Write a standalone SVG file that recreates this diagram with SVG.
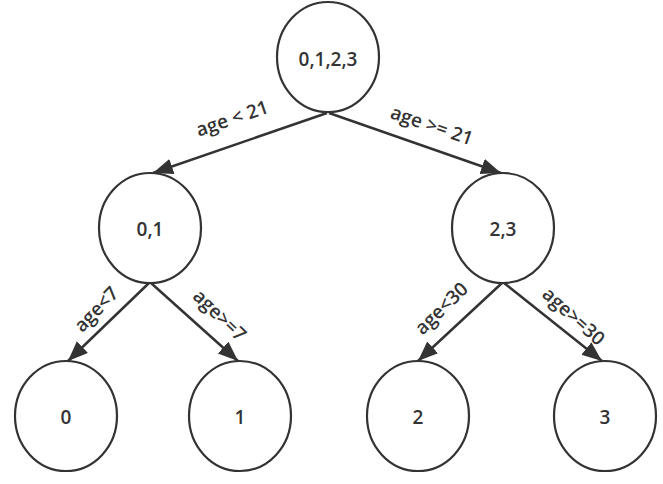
<svg xmlns="http://www.w3.org/2000/svg" width="663" height="484" viewBox="0 0 663 484">
<style>
.node{fill:#fff;stroke:#333;stroke-width:2.2}
.nt{font-family:"Open Sans","Noto Sans","Liberation Sans",sans-serif;font-size:19px;font-weight:600;fill:#333;text-anchor:middle;dominant-baseline:central}
.edge{stroke:#333;stroke-width:2.5;fill:none;marker-end:url(#ah)}
.el{font-family:"Open Sans","Noto Sans","Liberation Sans",sans-serif;font-size:19px;font-weight:600;fill:#333;text-anchor:middle;dominant-baseline:central}
</style>
<defs>
<marker id="ah" markerUnits="userSpaceOnUse" markerWidth="22" markerHeight="18" refX="20" refY="8" orient="auto">
<path d="M0,0 L20,8 L0,16 z" fill="#333"/>
</marker>
</defs>
<rect width="663" height="484" fill="#fff"/>
<g id="connectors">
<line class="edge" x1="327" y1="113" x2="153" y2="173"/>
<line class="edge" x1="329" y1="113" x2="501" y2="173"/>
<line class="edge" x1="149" y1="283" x2="68" y2="361"/>
<line class="edge" x1="151" y1="283" x2="238" y2="361"/>
<line class="edge" x1="502" y1="283" x2="418" y2="361"/>
<line class="edge" x1="504" y1="283" x2="602" y2="361"/>
<text class="el" transform="translate(232,118) rotate(-19)">age &lt; 21</text>
<text class="el" transform="translate(432,125) rotate(19)">age &gt;= 21</text>
<text class="el" transform="translate(96,309) rotate(-46)">age&lt;7</text>
<text class="el" transform="translate(220,315) rotate(44)">age&gt;=7</text>
<text class="el" transform="translate(441,308) rotate(-44)">age&lt;30</text>
<text class="el" transform="translate(574,316) rotate(42)">age&gt;=30</text>
</g>
<g id="n0123"><ellipse class="node" cx="328" cy="57" rx="51" ry="55"/><text class="nt" x="328" y="59">0,1,2,3</text></g>
<g id="n01"><ellipse class="node" cx="150" cy="228" rx="51" ry="55"/><text class="nt" x="150" y="229">0,1</text></g>
<g id="n23"><ellipse class="node" cx="503" cy="228" rx="51" ry="55"/><text class="nt" x="503" y="229">2,3</text></g>
<g id="n0"><ellipse class="node" cx="66" cy="416" rx="51" ry="55"/><text class="nt" x="66" y="417">0</text></g>
<g id="n1"><ellipse class="node" cx="240" cy="416" rx="51" ry="55"/><text class="nt" x="240" y="417">1</text></g>
<g id="n2"><ellipse class="node" cx="418" cy="416" rx="51" ry="55"/><text class="nt" x="418" y="417">2</text></g>
<g id="n3"><ellipse class="node" cx="605" cy="416" rx="51" ry="55"/><text class="nt" x="605" y="417">3</text></g>
</svg>
